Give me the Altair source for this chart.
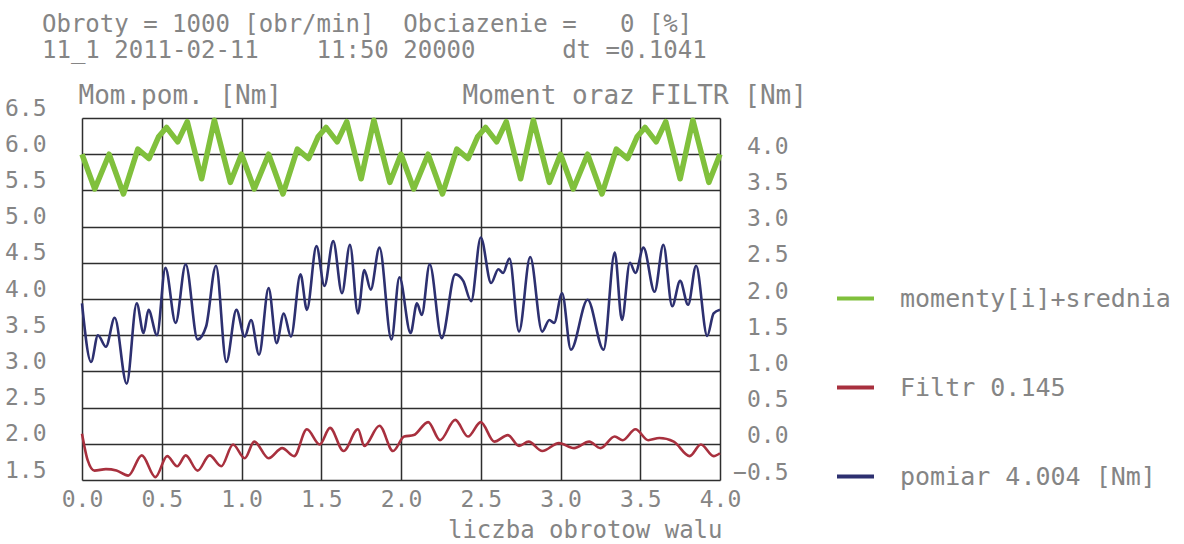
import altair as alt
import pandas as pd

# ---------------- data ----------------
LABEL_G = "momenty[i]+srednia"
LABEL_R = "Filtr 0.145"
LABEL_B = "pomiar 4.004 [Nm]"

# green: momenty[i]+srednia  (right axis units, "Moment oraz FILTR [Nm]")
green_x = [0.00, 0.08, 0.17, 0.26, 0.35, 0.42, 0.48, 0.53, 0.60, 0.66, 0.75, 0.83, 0.93,
           1.00, 1.08, 1.17, 1.26, 1.35, 1.42, 1.48, 1.53, 1.60, 1.66, 1.75, 1.83, 1.93,
           2.00, 2.08, 2.17, 2.26, 2.35, 2.42, 2.48, 2.53, 2.60, 2.66, 2.75, 2.83, 2.93,
           3.00, 3.08, 3.17, 3.26, 3.35, 3.42, 3.48, 3.53, 3.60, 3.66, 3.75, 3.83, 3.93,
           4.00]
green_y = [4.00, 3.52, 4.00, 3.45, 4.07, 3.94, 4.24, 4.37, 4.17, 4.45, 3.66, 4.47, 3.61,
           4.00, 3.52, 4.00, 3.45, 4.07, 3.94, 4.24, 4.37, 4.17, 4.45, 3.66, 4.47, 3.61,
           4.00, 3.52, 4.00, 3.45, 4.07, 3.94, 4.24, 4.37, 4.17, 4.45, 3.66, 4.47, 3.61,
           4.00, 3.52, 4.00, 3.45, 4.07, 3.94, 4.24, 4.37, 4.17, 4.45, 3.66, 4.47, 3.61,
           4.00]

# red: Filtr 0.145 (right axis units)
red_x = [0.00, 0.036, 0.078, 0.15, 0.216, 0.29, 0.375, 0.46, 0.534, 0.597, 0.65, 0.725,
         0.80, 0.873, 0.947, 1.02, 1.08, 1.17, 1.255, 1.33, 1.41, 1.49, 1.555, 1.64,
         1.73, 1.77, 1.865, 1.95, 2.02, 2.08, 2.17, 2.245, 2.34, 2.42, 2.50, 2.585,
         2.67, 2.74, 2.80, 2.886, 2.99, 3.085, 3.18, 3.25, 3.34, 3.39, 3.47, 3.55,
         3.62, 3.71, 3.81, 3.88, 3.96, 4.00]
red_y = [0.14, -0.23, -0.37, -0.35, -0.37, -0.44, -0.16, -0.46, -0.17, -0.31, -0.16, -0.37,
         -0.16, -0.31, -0.01, -0.20, 0.03, -0.20, -0.06, -0.17, 0.20, -0.01, 0.22, -0.10,
         0.20, -0.03, 0.25, -0.10, 0.10, 0.12, 0.30, 0.05, 0.33, 0.10, 0.30, 0.03,
         0.12, -0.03, 0.03, -0.10, 0.01, -0.06, 0.03, -0.06, 0.10, 0.05, 0.20, 0.05,
         0.08, 0.03, -0.17, -0.01, -0.17, -0.13]

# blue: pomiar (left axis units, "Mom.pom. [Nm]")
blue_x = [0.00, 0.057, 0.10, 0.15, 0.205, 0.28, 0.343, 0.386, 0.417, 0.47, 0.523, 0.587,
          0.65, 0.725, 0.778, 0.84, 0.905, 0.968, 1.02, 1.06, 1.11, 1.17, 1.22, 1.265,
          1.31, 1.37, 1.41, 1.47, 1.52, 1.575, 1.63, 1.68, 1.73, 1.77, 1.81, 1.865,
          1.94, 1.99, 2.06, 2.10, 2.13, 2.18, 2.255, 2.34, 2.39, 2.44, 2.50, 2.565,
          2.61, 2.64, 2.68, 2.74, 2.81, 2.885, 2.93, 2.96, 3.01, 3.065, 3.17, 3.27,
          3.34, 3.385, 3.435, 3.47, 3.52, 3.59, 3.645, 3.70, 3.75, 3.80, 3.85, 3.92,
          3.96, 4.00]
blue_y = [3.94, 3.13, 3.50, 3.34, 3.74, 2.83, 3.94, 3.53, 3.85, 3.50, 4.43, 3.67,
          4.48, 3.44, 3.62, 4.46, 3.13, 3.85, 3.48, 3.71, 3.23, 4.15, 3.39, 3.80,
          3.48, 4.34, 3.85, 4.73, 4.18, 4.80, 4.08, 4.75, 3.80, 4.40, 4.13, 4.71,
          3.44, 4.30, 3.53, 3.94, 3.78, 4.48, 3.46, 4.34, 4.25, 3.97, 4.85, 4.22,
          4.41, 4.36, 4.56, 3.55, 4.58, 3.55, 3.71, 3.67, 4.08, 3.30, 3.99, 3.30,
          4.64, 3.71, 4.50, 4.36, 4.71, 4.10, 4.75, 3.90, 4.25, 3.92, 4.46, 3.49,
          3.80, 3.85]

x_ticks = [0.0, 0.5, 1.0, 1.5, 2.0, 2.5, 3.0, 3.5, 4.0]
left_ticks = [1.5, 2.0, 2.5, 3.0, 3.5, 4.0, 4.5, 5.0, 5.5, 6.0, 6.5]
right_ticks = [-0.5, 0.0, 0.5, 1.0, 1.5, 2.0, 2.5, 3.0, 3.5, 4.0]

title_line1 = "Obroty = 1000 [obr/min]\u00a0\u00a0Obciazenie =\u00a0\u00a0\u00a00 [%]"
title_line2 = "11_1 2011-02-11\u00a0\u00a0\u00a0\u00a011:50 20000\u00a0\u00a0\u00a0\u00a0\u00a0\u00a0dt =0.1041"

# ---------------- styling ----------------
MONO = "DejaVu Sans Mono"
GRAY = "#858585"
GRID = "#2e2e2e"
series_domain = [LABEL_G, LABEL_R, LABEL_B]
series_colors = ["#80c03c", "#a8303e", "#2d3070"]

df_green = pd.DataFrame({"x": green_x, "y": green_y, "series": [LABEL_G] * len(green_x)})
df_red = pd.DataFrame({"x": red_x, "y": red_y, "series": [LABEL_R] * len(red_x)})
df_blue = pd.DataFrame({"x": blue_x, "y": blue_y, "series": [LABEL_B] * len(blue_x)})

color_enc = alt.Color(
    "series:N",
    scale=alt.Scale(domain=series_domain, range=series_colors),
    legend=alt.Legend(
        title=None,
        orient="none",
        legendX=753,
        legendY=160,
        symbolType="stroke",
        symbolSize=1369,
        symbolStrokeWidth=4,
        labelFont=MONO,
        labelFontSize=25,
        labelColor=GRAY,
        labelOffset=24,
        rowPadding=55,
        labelLimit=400,
    ),
)

x_enc = alt.X(
    "x:Q",
    scale=alt.Scale(domain=[0, 4], nice=False),
    axis=alt.Axis(
        values=x_ticks, format=".1f", grid=True, gridColor=GRID, gridWidth=1.5,
        gridOpacity=1, ticks=False, domain=False, labelFlush=False,
        labelFont=MONO, labelFontSize=23, labelColor=GRAY, labelPadding=8,
        title="liczba obrotow walu", titleFont=MONO, titleFontSize=24,
        titleFontWeight="normal", titleColor=GRAY, titleAnchor="end",
        titleAlign="right", titleX=640, titleY=50, titleBaseline="middle",
    ),
)

left_y = alt.Y(
    "y:Q",
    scale=alt.Scale(domain=[1.5, 6.5], nice=False, zero=False),
    axis=alt.Axis(
        orient="left", values=left_ticks, format=".1f", grid=True,
        gridColor=GRID, gridWidth=1.5, gridOpacity=1, ticks=False, domain=False,
        labelFont=MONO, labelFontSize=23, labelColor=GRAY, labelPadding=36,
        labelOffset=-10, labelFlush=False,
        title="Mom.pom. [Nm]", titleFont=MONO, titleFontSize=26,
        titleFontWeight="normal", titleColor=GRAY, titleAngle=0,
        titleAlign="left", titleBaseline="middle", titleX=-4, titleY=-23,
    ),
)

right_y = alt.Y(
    "y:Q",
    scale=alt.Scale(domain=[-0.5, 4.5], nice=False, zero=False),
    axis=alt.Axis(
        orient="right", values=right_ticks, format=".1f", grid=False,
        ticks=False, domain=False, labelFlush=False,
        labelFont=MONO, labelFontSize=23, labelColor=GRAY, labelPadding=68,
        labelAlign="right", labelOffset=-8,
        title="Moment oraz FILTR [Nm]", titleFont=MONO, titleFontSize=26,
        titleFontWeight="normal", titleColor=GRAY, titleAngle=0,
        titleAlign="left", titleBaseline="middle", titleX=-258, titleY=-23,
    ),
)

blue = alt.Chart(df_blue).mark_line(strokeWidth=2.6, interpolate="monotone").encode(
    x=x_enc, y=left_y, color=color_enc
)

green = alt.Chart(df_green).mark_line(
    strokeWidth=5.5, interpolate="linear", strokeJoin="round"
).encode(x=x_enc, y=right_y, color=color_enc)

red = alt.Chart(df_red).mark_line(strokeWidth=2.6, interpolate="monotone").encode(
    x=x_enc, y=right_y, color=color_enc
)

right_layer = alt.layer(green, red)

chart = (
    alt.layer(blue, right_layer)
    .resolve_scale(y="independent")
    .properties(
        width=638,
        height=362,
        autosize=alt.AutoSizeParams(type="none"),
        padding={"left": 82, "top": 118, "right": 464, "bottom": 64},
        title=alt.TitleParams(
            text=[title_line1, title_line2],
            anchor="start",
            frame="group",
            font=MONO,
            fontSize=24,
            fontWeight="normal",
            color=GRAY,
            lineHeight=26,
            dx=-40,
            offset=19,
        ),
    )
    .configure_view(stroke=GRID, strokeWidth=2)
    .configure(background="white")
)

chart.save("out.html", embed_options={"renderer": "svg", "actions": False})
